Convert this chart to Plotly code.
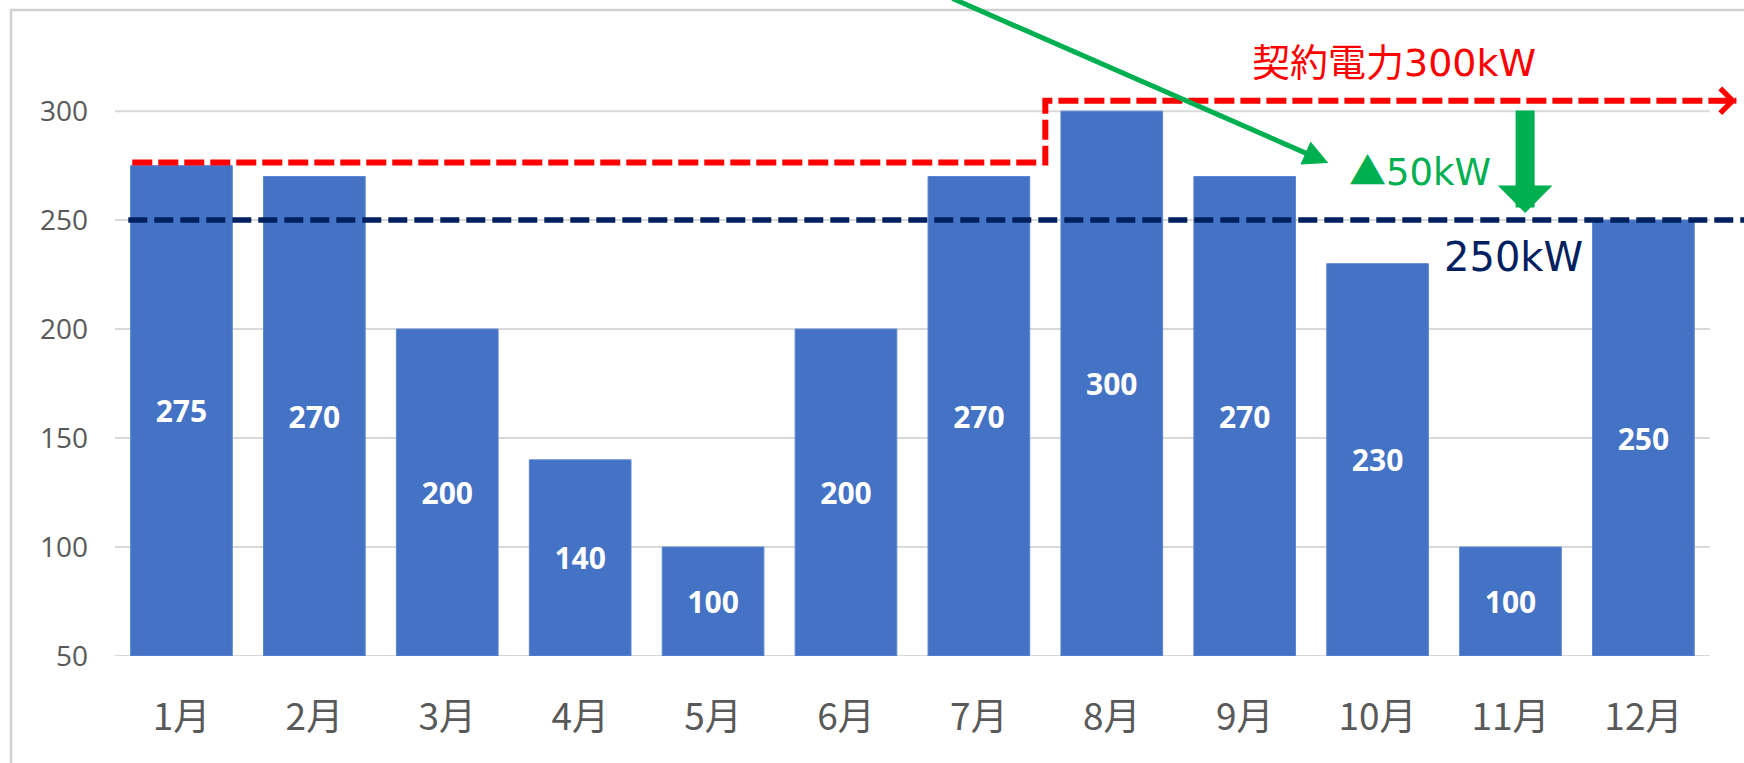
import plotly.graph_objects as go

# ---------------- data ----------------
months = ["1月", "2月", "3月", "4月", "5月", "6月", "7月", "8月", "9月", "10月", "11月", "12月"]
demand_kw = [275, 270, 200, 140, 100, 200, 270, 300, 270, 230, 100, 250]
y_ticks = [50, 100, 150, 200, 250, 300]
contract_before_kw = 275
contract_after_kw = 300
target_kw = 250
reduction_kw = contract_after_kw - target_kw

# ---------------- layout constants ----------------
W, H = 1744, 763
ML, MB = 115, 107
Y_MIN, Y_MAX = 50, 351
X_MIN, X_MAX = -0.5, 11.757

BAR_BLUE = "#4472C4"
RED = "#FF0000"
GREEN = "#00B050"
NAVY = "#002060"
GRID = "#d9d9d9"
TICK_GRAY = "#595959"
LATIN_CJK = "DejaVu Sans, Noto Sans CJK JP"
CJK = "Noto Sans CJK JP"

x_idx = list(range(len(months)))
n = len(months)

fig = go.Figure()

fig.add_bar(
    x=x_idx,
    y=[v - Y_MIN for v in demand_kw],
    base=Y_MIN,
    text=[str(v) for v in demand_kw],
    texttemplate="%{text}",
    textposition="inside",
    insidetextanchor="middle",
    textangle=0,
    textfont=dict(family="Open Sans", size=30, color="white", weight="bold"),
    marker=dict(color=BAR_BLUE, line=dict(color="#5A86D2", width=1)),
    width=0.765,
    hoverinfo="skip",
)

shapes = []
# horizontal gridlines at the tick values
for v in y_ticks:
    shapes.append(dict(type="line", xref="x", yref="y", x0=-0.5, x1=n - 0.5, y0=v, y1=v,
                       line=dict(color=GRID, width=2), layer="below"))

# chart border
shapes.append(dict(type="rect", xref="paper", yref="paper",
                   x0=(11 - ML) / (W - ML), x1=1.05, y0=-0.4, y1=(H - MB - 10) / (H - MB),
                   line=dict(color="#d0d0d0", width=2.5), fillcolor="rgba(0,0,0,0)", layer="below"))

# target 250kW dashed line
shapes.append(dict(type="line", xref="x", yref="y", x0=-0.40, x1=X_MAX, y0=target_kw, y1=target_kw,
                   line=dict(color=NAVY, width=5.5, dash="19px,7px"), layer="above"))

# contract power step line
y_lo = contract_before_kw + 1.4
y_hi = contract_after_kw + 4.8
step_x = 6.5
shapes.append(dict(type="path", xref="x", yref="y",
                   path=f"M -0.37,{y_lo} L {step_x},{y_lo} L {step_x},{y_hi} L 11.70,{y_hi}",
                   line=dict(color=RED, width=6, dash="20px,6px"), layer="above"))

annotations = [
    # red arrow head at end of contract line
    dict(x=11.70, y=y_hi, xref="x", yref="y", ax=-22, ay=0, text="", showarrow=True,
         arrowhead=4, arrowwidth=5, arrowsize=0.95, arrowcolor=RED),
    # thin green pointer arrow
    dict(x=8.63, y=276.2, xref="x", yref="y", ax=5.79, ay=352, axref="x", ayref="y",
         text="", showarrow=True, arrowhead=2, arrowwidth=5, arrowsize=1.0, arrowcolor=GREEN),
    # thick green down arrow
    dict(x=10.11, y=253.3, xref="x", yref="y", ax=10.11, ay=301, axref="x", ayref="y",
         text="", showarrow=True, arrowhead=1, arrowwidth=19, arrowsize=0.48, arrowcolor=GREEN),
    # texts
    dict(x=9.125, y=322.1, xref="x", yref="y", text=f"契約電力{contract_after_kw}kW", showarrow=False,
         font=dict(family=LATIN_CJK, size=38, color=RED), xanchor="center", yanchor="middle"),
    dict(x=9.32, y=273.5, xref="x", yref="y",
         text=f"<span style='font-family:{CJK}'>▲</span>{reduction_kw}kW", showarrow=False,
         font=dict(family=LATIN_CJK, size=37, color=GREEN), xanchor="center", yanchor="middle"),
    dict(x=10.02, y=233.1, xref="x", yref="y", text=f"{target_kw}kW", showarrow=False,
         font=dict(family=LATIN_CJK, size=40, color=NAVY), xanchor="center", yanchor="middle"),
]

fig.update_layout(
    width=W, height=H,
    margin=dict(l=ML, r=0, t=0, b=MB, pad=0),
    paper_bgcolor="white",
    plot_bgcolor="rgba(0,0,0,0)",
    showlegend=False,
    shapes=shapes,
    annotations=annotations,
    xaxis=dict(range=[X_MIN, X_MAX], tickvals=x_idx, ticktext=months, showgrid=False,
               zeroline=False, showline=False, ticks="", ticklabelstandoff=36,
               tickfont=dict(family=CJK, size=37, color=TICK_GRAY), fixedrange=True),
    yaxis=dict(range=[Y_MIN, Y_MAX], tickvals=y_ticks, showgrid=False, zeroline=False,
               showline=False, ticks="", ticklabelstandoff=26,
               tickfont=dict(family="Open Sans", size=28, color=TICK_GRAY), fixedrange=True),
)

fig.write_html("out.html", config={"displayModeBar": False})
